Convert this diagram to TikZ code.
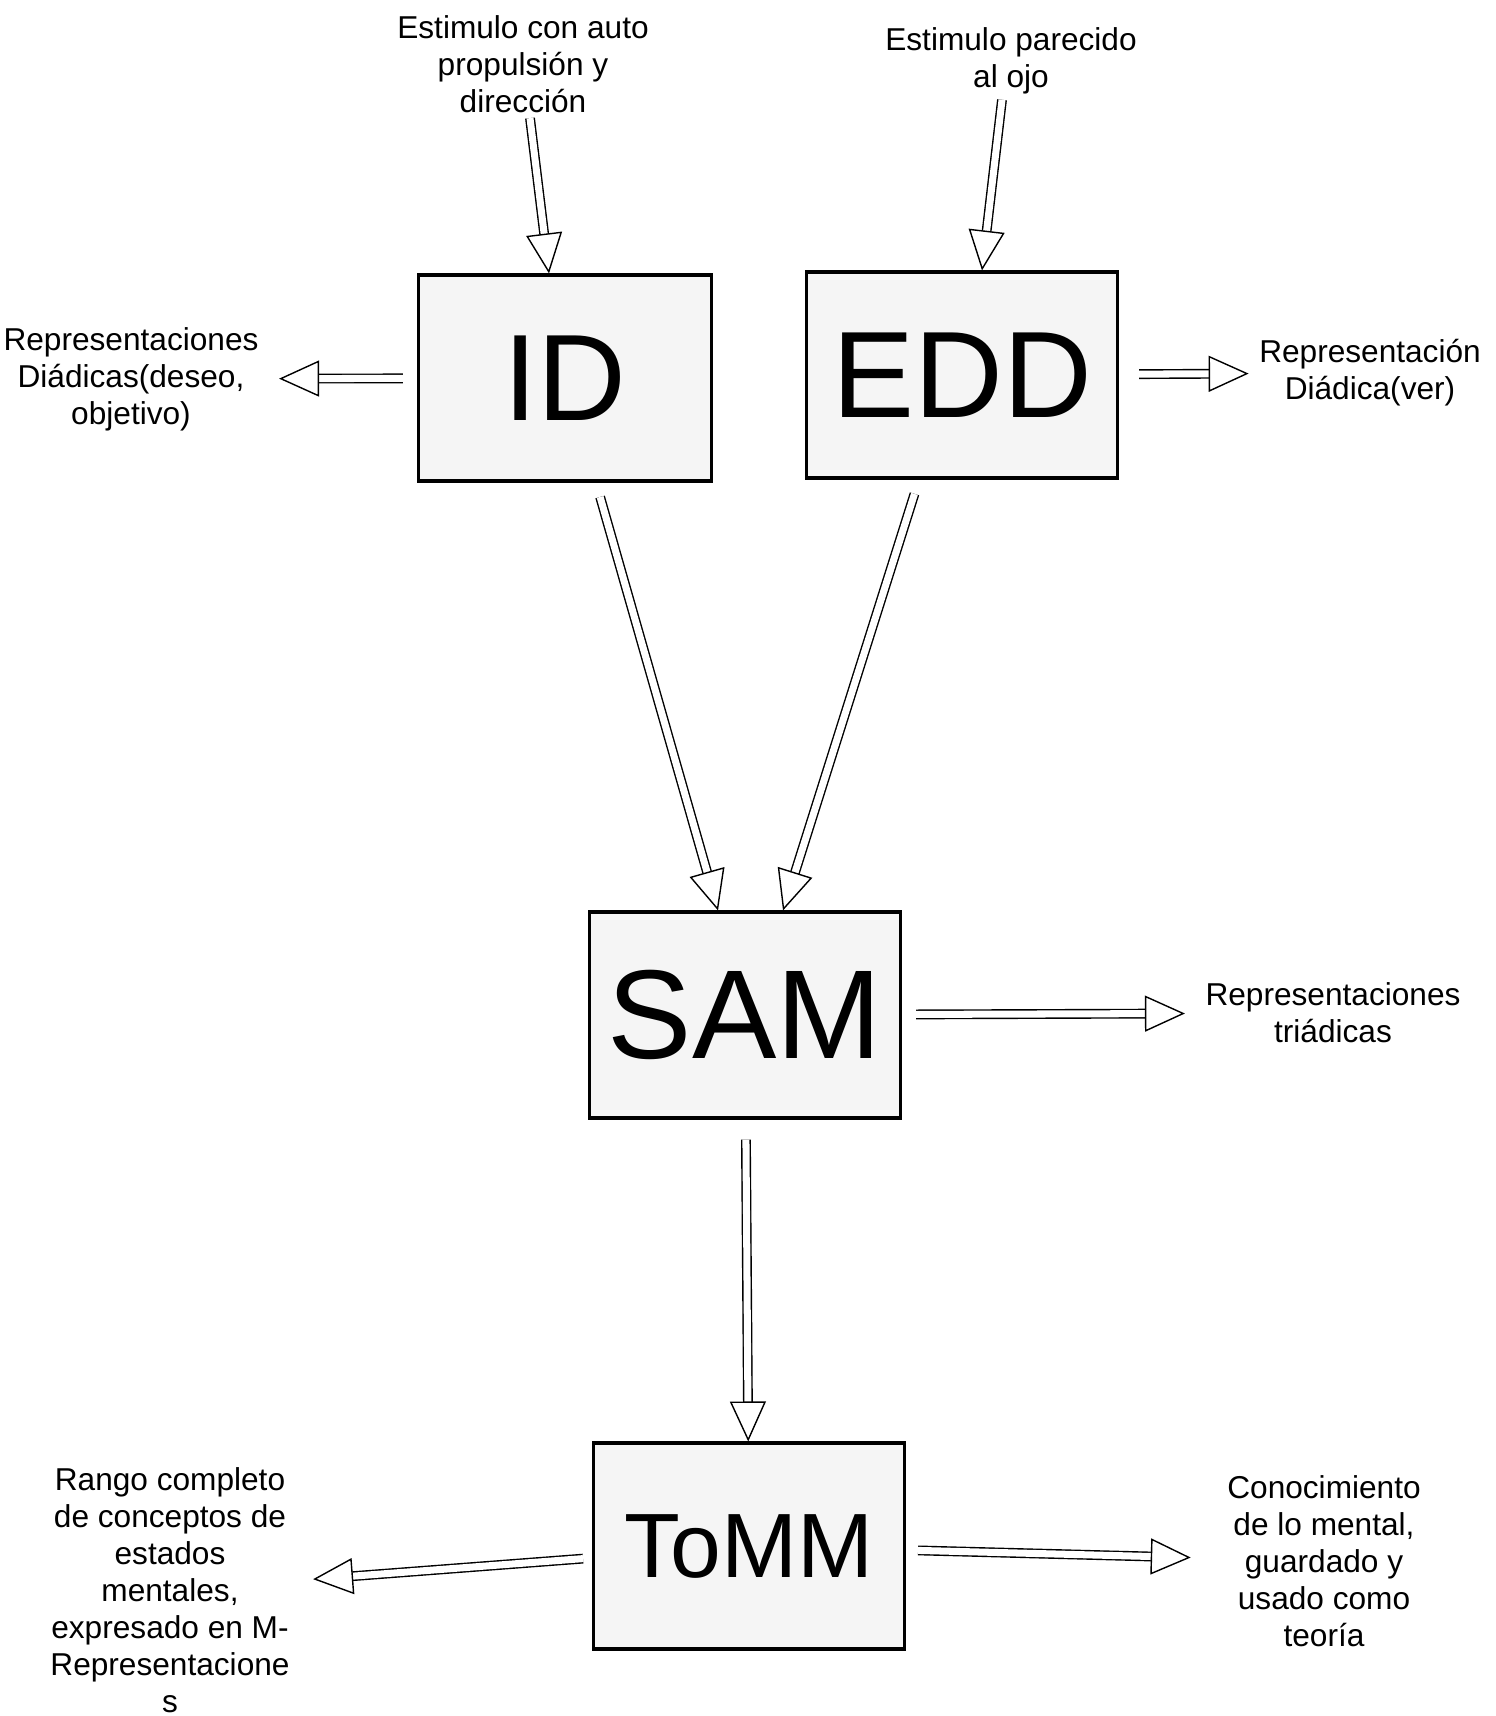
\documentclass[tikz,border=0pt]{standalone}
\usepackage{fontspec}
\setmainfont{Liberation Sans}
\usetikzlibrary{arrows.meta,calc}

\tikzset{
  caja/.style={draw, line width=1.8pt, fill=black!4, inner sep=0pt, minimum width=6.22cm, minimum height=4.12cm},
  rotulo/.style={align=center, font=\fontsize{18}{21}\selectfont, inner sep=3pt},
  flecha/.style={double, double distance=4pt, line width=0.8pt, -{Triangle[open, length=0.8cm, width=0.72cm]}},
}

\begin{document}
\begin{tikzpicture}[x=0.02cm, y=-0.02cm]
\useasboundingbox (0,0) rectangle (1495,1716);

%%%%% modulos
\node[caja, minimum width=5.86cm, font=\fontsize{70}{70}\selectfont] (id) at (565,378) {ID};
\node[caja, font=\fontsize{70}{70}\selectfont] (edd) at (962,375) {EDD};
\node[caja, font=\fontsize{72}{72}\selectfont] (sam) at (745,1015) {SAM};
\node[caja, font=\fontsize{52}{52}\selectfont] (tomm) at (749,1546) {ToMM};

%%%%% textos
\node[rotulo] (estA) at (523,64) {Estimulo con auto\\propulsión y\\dirección};
\node[rotulo] (estB) at (1011,61) {Estimulo parecido\\al ojo};
\node[rotulo] (repID) at (131,379) {Representaciones\\Diádicas(deseo,\\objetivo)};
\node[rotulo] (repEDD) at (1370,373) {Representación\\Diádica(ver)};
\node[rotulo] (repSAM) at (1333,1013) {Representaciones\\triádicas};
\node[rotulo] (repToMMa) at (170,1590) {Rango completo\\de conceptos de\\estados\\mentales,\\expresado en M-\\Representacione\\s};
\node[rotulo] (repToMMb) at (1324,1561) {Conocimiento\\de lo mental,\\guardado y\\usado como\\teoría};

%%%%% flechas
\draw[flecha] ($(estA.south)+(7,0)$) -- ($(id.north)+(-16,0)$);
\draw[flecha] ($(estB.south)+(-9,0)$) -- ($(edd.north)+(20,0)$);
\draw[flecha, shorten <=0.28cm, shorten >=0.3cm] (id) -- (repID);
\draw[flecha, shorten <=0.4cm, shorten >=0.1cm] (edd) -- (repEDD);
\draw[flecha, shorten <=0.3cm] ($(id.south)+(31,0)$) -- ($(sam.north)+(-27,0)$);
\draw[flecha, shorten <=0.3cm] ($(edd.south)+(-43,0)$) -- ($(sam.north)+(38,0)$);
\draw[flecha, shorten <=0.28cm, shorten >=0.3cm] (sam) -- (repSAM);
\draw[flecha, shorten <=0.4cm] (sam) -- (tomm);
\draw[flecha, shorten <=0.18cm, shorten >=0.36cm] (tomm) -- (repToMMa);
\draw[flecha, shorten <=0.24cm, shorten >=0.62cm] (tomm) -- (repToMMb);

\end{tikzpicture}
\end{document}
